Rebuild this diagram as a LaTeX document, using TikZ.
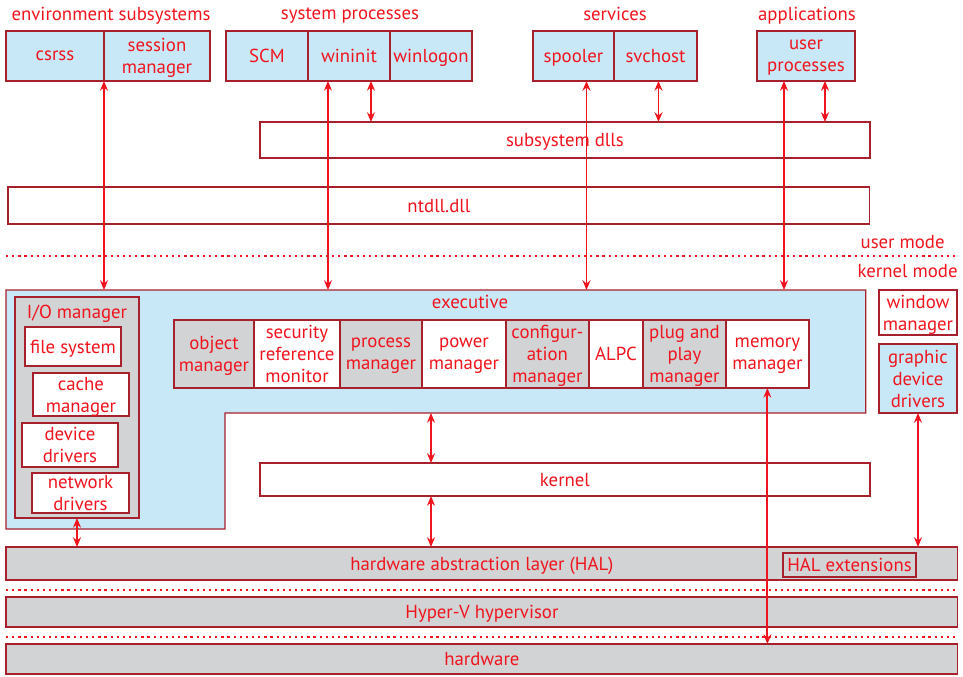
\documentclass[tikz,border=0pt]{standalone}
\usepackage{fontspec}
\setmainfont{PT Sans}
\usetikzlibrary{arrows.meta, positioning, calc}

\definecolor{txtred}{RGB}{240,20,30}
\definecolor{boxred}{RGB}{168,32,44}
\definecolor{paleblue}{RGB}{200,232,248}
\definecolor{palegray}{RGB}{209,211,212}

\begin{document}
\begin{tikzpicture}[x=0.02cm, y=-0.02cm,
        font=\fontsize{10.7}{12.5}\selectfont, text=txtred,
        box/.style={rectangle, draw=boxred, line width=0.7pt, inner sep=0pt, outer sep=0pt, align=center, anchor=north west, text depth=0pt},
        bluebox/.style={box, fill=paleblue},
        graybox/.style={box, fill=palegray},
        whitebox/.style={box, fill=white},
        grouplbl/.style={inner sep=0pt, text depth=0pt},
        modeline/.style={txtred, line width=1.3pt, dash pattern=on 1.3pt off 2.2pt},
        arrow/.style={{Stealth[length=5.5pt, width=4.5pt]}-{Stealth[length=5.5pt, width=4.5pt]}, line width=1.1pt, txtred}
    ]
    \useasboundingbox (0,0) rectangle (963,676);

    % --- 1. USER MODE PROCESSES ---
    \node [bluebox, minimum width=1.96cm, minimum height=1cm] (csrss) at (6,31) {csrss};
    \node [bluebox, right=0pt of csrss, minimum width=2.12cm, minimum height=1cm] (sessmgr) {session\\manager};

    \node [bluebox, minimum width=1.64cm, minimum height=1cm] (scm) at (226,31) {SCM};
    \node [bluebox, right=0pt of scm, minimum width=1.64cm, minimum height=1cm] (wininit) {wininit};
    \node [bluebox, right=0pt of wininit, minimum width=1.64cm, minimum height=1cm] (winlogon) {winlogon};

    \node [bluebox, minimum width=1.62cm, minimum height=1cm] (spooler) at (533,31) {spooler};
    \node [bluebox, right=0pt of spooler, minimum width=1.66cm, minimum height=1cm] (svchost) {svchost};

    \node [bluebox, minimum width=1.96cm, minimum height=1cm] (userproc) at (757,31) {user\\processes};

    \node [grouplbl] (envlbl) at (111,14) {environment subsystems};
    \node [grouplbl] (syslbl) at (350,14) {system processes};
    \node [grouplbl] (svclbl) at (615,14) {services};
    \node [grouplbl] (applbl) at (807,14) {applications};

    % --- 2. DLL LAYERS ---
    \node [whitebox, minimum width=12.2cm, minimum height=0.72cm] (subdll) at (260,122) {subsystem dlls};
    \node [whitebox, minimum width=17.24cm, minimum height=0.74cm] (ntdll) at (8,187) {ntdll.dll};

    % mode boundary
    \node [grouplbl, anchor=east] (usermode) at (945,242) {user mode};
    \node [grouplbl, anchor=east] (kernelmode) at (958,271) {kernel mode};
    \draw [modeline] (6,256) -- (958,256);

    % --- 3. EXECUTIVE ---
    \node [box, draw=none, minimum width=17.2cm, minimum height=2.46cm] (exec) at (6,290) {};
    \draw [draw=boxred, line width=0.7pt, fill=paleblue] (exec.north west) -- (exec.north east) -- (exec.south east)
        -- (225,413) -- (225,529) -- (6,529) -- cycle;
    \node [grouplbl] (execlbl) at (470,302) {executive};

    % I/O manager
    \node [graybox, minimum width=2.48cm, minimum height=4.42cm] (iomgr) at (15,297) {};
    \node [grouplbl] (iolbl) at (77,312) {I/O manager};
    \node [whitebox, minimum width=1.92cm, minimum height=0.78cm] (filesys) at (25,327) {file system};
    \node [whitebox, minimum width=1.92cm, minimum height=0.86cm] (cachemgr) at (33,373) {cache\\manager};
    \node [whitebox, minimum width=1.92cm, minimum height=0.88cm] (devdrv) at (22,423) {device\\drivers};
    \node [whitebox, minimum width=1.94cm, minimum height=0.80cm] (netdrv) at (32,473) {network\\drivers};

    % executive components
    \node [graybox, minimum width=1.6cm, minimum height=1.36cm] (objmgr) at (174,320) {object\\manager};
    \node [whitebox, right=0pt of objmgr, minimum width=1.72cm, minimum height=1.36cm] (secmon) {security\\reference\\monitor};
    \node [graybox, right=0pt of secmon, minimum width=1.64cm, minimum height=1.36cm] (procmgr) {process\\manager};
    \node [whitebox, right=0pt of procmgr, minimum width=1.68cm, minimum height=1.36cm] (powmgr) {power\\manager};
    \node [graybox, right=0pt of powmgr, minimum width=1.66cm, minimum height=1.36cm] (cfgmgr) {configur-\\ation\\manager};
    \node [whitebox, right=0pt of cfgmgr, minimum width=1.08cm, minimum height=1.36cm] (alpc) {ALPC};
    \node [graybox, right=0pt of alpc, minimum width=1.66cm, minimum height=1.36cm] (pnpmgr) {plug and\\play\\manager};
    \node [whitebox, right=0pt of pnpmgr, minimum width=1.66cm, minimum height=1.36cm] (memmgr) {memory\\manager};

    % windowing
    \node [whitebox, minimum width=1.56cm, minimum height=0.9cm] (winmgr) at (879,290) {window\\manager};
    \node [bluebox, minimum width=1.56cm, minimum height=1.38cm] (gdd) at (879,344) {graphic\\device\\drivers};

    % --- 4. KERNEL, HAL, HYPERVISOR, HARDWARE ---
    \node [whitebox, minimum width=12.2cm, minimum height=0.66cm] (kernel) at (260,463) {kernel};
    \node [graybox, minimum width=19.04cm, minimum height=0.66cm] (hal) at (6,547) {hardware abstraction layer (HAL)};
    \node [graybox, minimum width=2.66cm, minimum height=0.48cm] (halext) at (783,553) {HAL extensions};
    \draw [modeline] (6,590) -- (958,590);
    \node [graybox, minimum width=19.04cm, minimum height=0.6cm] (hyperv) at (6,597) {Hyper-V hypervisor};
    \draw [modeline] (6,637) -- (958,637);
    \node [graybox, minimum width=19.04cm, minimum height=0.6cm] (hw) at (6,644) {hardware};

    % Connectors
    \coordinate (wi1) at ($(wininit.south)+(-21,0)$);
    \coordinate (wi2) at ($(wininit.south)+(22,0)$);
    \coordinate (sp1) at ($(spooler.south)+(13,0)$);
    \coordinate (sv1) at ($(svchost.south)+(3,0)$);
    \coordinate (up1) at ($(userproc.south)+(-22,0)$);
    \coordinate (up2) at ($(userproc.south)+(19,0)$);
    \coordinate (kx) at ($(kernel.north west)+(171,0)$);

    \draw [arrow] (sessmgr.south west) -- (sessmgr.south west |- exec.north);
    \draw [arrow] (wi1) -- (wi1 |- exec.north);
    \draw [arrow] (wi2) -- (wi2 |- subdll.north);
    \draw [arrow] (sp1) -- (sp1 |- exec.north);
    \draw [arrow] (sv1) -- (sv1 |- subdll.north);
    \draw [arrow] (up1) -- (up1 |- exec.north);
    \draw [arrow] (up2) -- (up2 |- subdll.north);

    \draw [arrow] (kx |- exec.south) -- (kx);
    \draw [arrow] (kx |- kernel.south) -- (kx |- hal.north);
    \draw [arrow] (iomgr.south) -- (iomgr.south |- hal.north);
    \draw [arrow] (memmgr.south) -- (memmgr.south |- hw.north);
    \draw [arrow] (gdd.south) -- (gdd.south |- hal.north);

\end{tikzpicture}
\end{document}
